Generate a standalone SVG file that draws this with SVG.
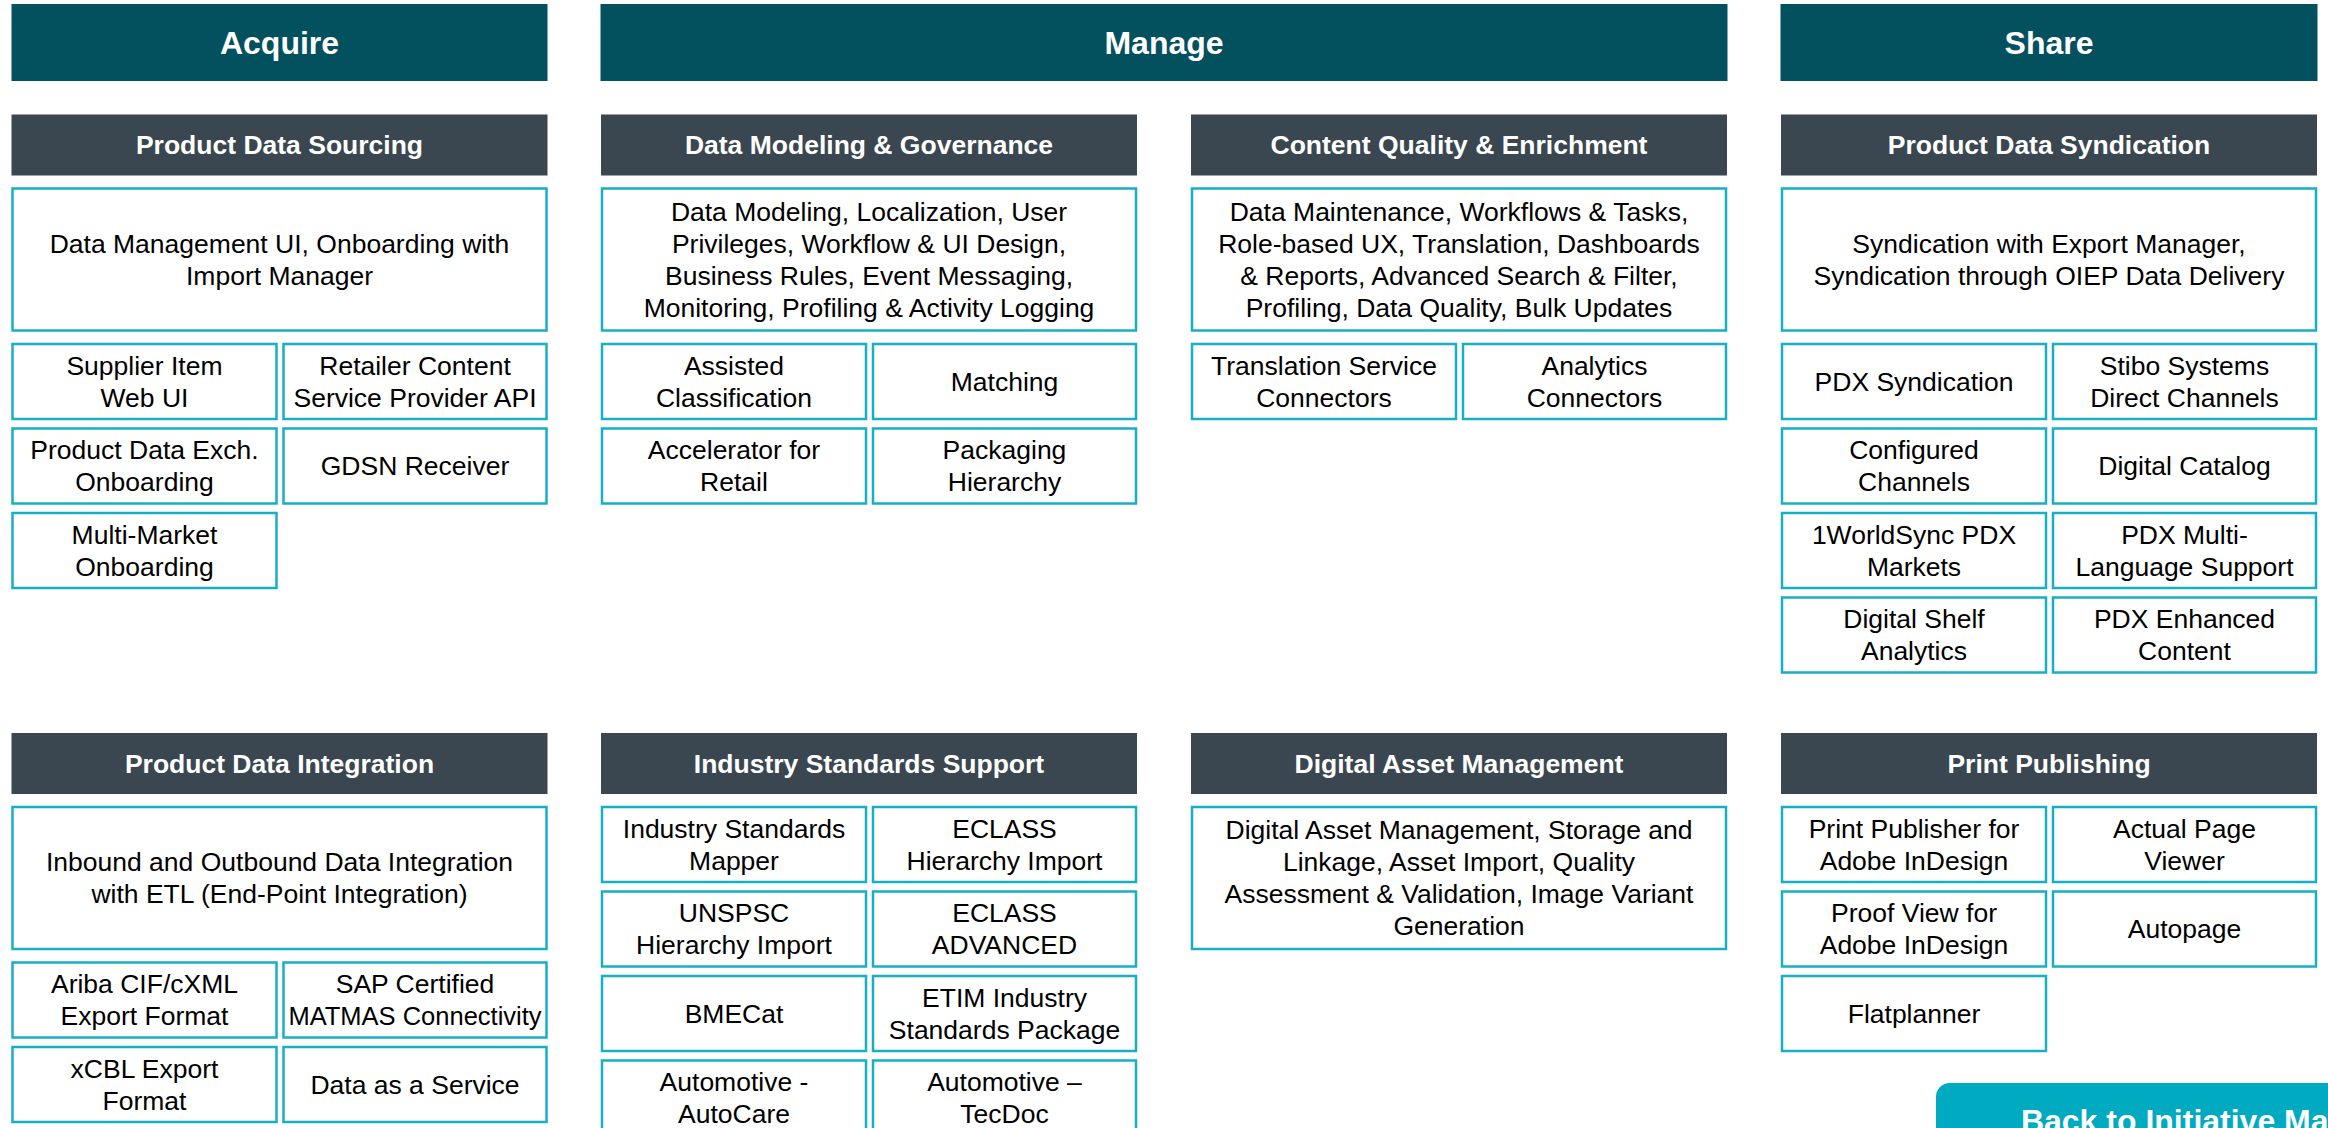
<svg xmlns="http://www.w3.org/2000/svg" width="2328" height="1128" viewBox="0 0 2328 1128">
<style>
.hd{fill:#03505E}
.sh{fill:#3A4650}
.bx{fill:#FFFFFF;stroke:#17AFC4;stroke-width:2.5}
text{font-family:"Liberation Sans",Arial,Helvetica,sans-serif;text-anchor:middle}
.t{font-size:26.5px;fill:#000000}
.st{font-size:26.5px;font-weight:bold;fill:#FFFFFF}
.ht{font-size:32px;font-weight:bold;fill:#FFFFFF}
.btn{fill:#00AAC1}
</style>
<rect x="0" y="0" width="2328" height="1128" fill="#FFFFFF"/>
<g id="connectors"></g>

<!-- Phase headers -->
<g id="acquire"><rect class="hd" x="11.5" y="4" width="536" height="77"/><text class="ht" x="279.5" y="53.6">Acquire</text></g>
<g id="manage"><rect class="hd" x="600.5" y="4" width="1127" height="77"/><text class="ht" x="1164" y="53.6">Manage</text></g>
<g id="share"><rect class="hd" x="1780.5" y="4" width="537" height="77"/><text class="ht" x="2049" y="53.6">Share</text></g>

<!-- Product Data Sourcing -->
<g id="product-data-sourcing">
<rect class="sh" x="11.5" y="114.5" width="536" height="61"/><text class="st" x="279.5" y="154.3">Product Data Sourcing</text>
</g>
<g id="pds-main"><rect class="bx" x="12.5" y="188.5" width="534" height="142"/><text class="t" x="279.5" y="252.8">Data Management UI, Onboarding with</text><text class="t" x="279.5" y="284.8">Import Manager</text></g>
<g id="pds-supplier"><rect class="bx" x="12.5" y="344" width="264" height="75"/><text class="t" x="144.5" y="374.8">Supplier Item</text><text class="t" x="144.5" y="406.8">Web UI</text></g>
<g id="pds-retailer"><rect class="bx" x="283.5" y="344" width="263" height="75"/><text class="t" x="415" y="374.8">Retailer Content</text><text class="t" x="415" y="406.8">Service Provider API</text></g>
<g id="pds-pdx"><rect class="bx" x="12.5" y="428.5" width="264" height="75"/><text class="t" x="144.5" y="459.3">Product Data Exch.</text><text class="t" x="144.5" y="491.3">Onboarding</text></g>
<g id="pds-gdsn"><rect class="bx" x="283.5" y="428.5" width="263" height="75"/><text class="t" x="415" y="475.3">GDSN Receiver</text></g>
<g id="pds-multimarket"><rect class="bx" x="12.5" y="513" width="264" height="75"/><text class="t" x="144.5" y="543.8">Multi-Market</text><text class="t" x="144.5" y="575.8">Onboarding</text></g>

<!-- Data Modeling & Governance -->
<g id="data-modeling-governance">
<rect class="sh" x="601" y="114.5" width="536" height="61"/><text class="st" x="869" y="154.3">Data Modeling &amp; Governance</text>
</g>
<g id="dmg-main"><rect class="bx" x="602" y="188.5" width="534" height="142"/>
<text class="t" x="869" y="220.8">Data Modeling, Localization, User</text>
<text class="t" x="869" y="252.8">Privileges, Workflow &amp; UI Design,</text>
<text class="t" x="869" y="284.8">Business Rules, Event Messaging,</text>
<text class="t" x="869" y="316.8">Monitoring, Profiling &amp; Activity Logging</text></g>
<g id="dmg-assisted"><rect class="bx" x="602" y="344" width="264" height="75"/><text class="t" x="734" y="374.8">Assisted</text><text class="t" x="734" y="406.8">Classification</text></g>
<g id="dmg-matching"><rect class="bx" x="873" y="344" width="263" height="75"/><text class="t" x="1004.5" y="390.8">Matching</text></g>
<g id="dmg-accelerator"><rect class="bx" x="602" y="428.5" width="264" height="75"/><text class="t" x="734" y="459.3">Accelerator for</text><text class="t" x="734" y="491.3">Retail</text></g>
<g id="dmg-packaging"><rect class="bx" x="873" y="428.5" width="263" height="75"/><text class="t" x="1004.5" y="459.3">Packaging</text><text class="t" x="1004.5" y="491.3">Hierarchy</text></g>

<!-- Content Quality & Enrichment -->
<g id="content-quality-enrichment">
<rect class="sh" x="1191" y="114.5" width="536" height="61"/><text class="st" x="1459" y="154.3">Content Quality &amp; Enrichment</text>
</g>
<g id="cqe-main"><rect class="bx" x="1192" y="188.5" width="534" height="142"/>
<text class="t" x="1459" y="220.8">Data Maintenance, Workflows &amp; Tasks,</text>
<text class="t" x="1459" y="252.8">Role-based UX, Translation, Dashboards</text>
<text class="t" x="1459" y="284.8">&amp; Reports, Advanced Search &amp; Filter,</text>
<text class="t" x="1459" y="316.8">Profiling, Data Quality, Bulk Updates</text></g>
<g id="cqe-translation"><rect class="bx" x="1192" y="344" width="264" height="75"/><text class="t" x="1324" y="374.8">Translation Service</text><text class="t" x="1324" y="406.8">Connectors</text></g>
<g id="cqe-analytics"><rect class="bx" x="1463" y="344" width="263" height="75"/><text class="t" x="1594.5" y="374.8">Analytics</text><text class="t" x="1594.5" y="406.8">Connectors</text></g>

<!-- Product Data Syndication -->
<g id="product-data-syndication">
<rect class="sh" x="1781" y="114.5" width="536" height="61"/><text class="st" x="2049" y="154.3">Product Data Syndication</text>
</g>
<g id="syn-main"><rect class="bx" x="1782" y="188.5" width="534" height="142"/><text class="t" x="2049" y="252.8">Syndication with Export Manager,</text><text class="t" x="2049" y="284.8">Syndication through OIEP Data Delivery</text></g>
<g id="syn-pdx"><rect class="bx" x="1782" y="344" width="264" height="75"/><text class="t" x="1914" y="390.8">PDX Syndication</text></g>
<g id="syn-stibo"><rect class="bx" x="2053" y="344" width="263" height="75"/><text class="t" x="2184.5" y="374.8">Stibo Systems</text><text class="t" x="2184.5" y="406.8">Direct Channels</text></g>
<g id="syn-configured"><rect class="bx" x="1782" y="428.5" width="264" height="75"/><text class="t" x="1914" y="459.3">Configured</text><text class="t" x="1914" y="491.3">Channels</text></g>
<g id="syn-catalog"><rect class="bx" x="2053" y="428.5" width="263" height="75"/><text class="t" x="2184.5" y="475.3">Digital Catalog</text></g>
<g id="syn-1worldsync"><rect class="bx" x="1782" y="513" width="264" height="75"/><text class="t" x="1914" y="543.8">1WorldSync PDX</text><text class="t" x="1914" y="575.8">Markets</text></g>
<g id="syn-multilang"><rect class="bx" x="2053" y="513" width="263" height="75"/><text class="t" x="2184.5" y="543.8">PDX Multi-</text><text class="t" x="2184.5" y="575.8">Language Support</text></g>
<g id="syn-shelf"><rect class="bx" x="1782" y="597.5" width="264" height="75"/><text class="t" x="1914" y="628.3">Digital Shelf</text><text class="t" x="1914" y="660.3">Analytics</text></g>
<g id="syn-enhanced"><rect class="bx" x="2053" y="597.5" width="263" height="75"/><text class="t" x="2184.5" y="628.3">PDX Enhanced</text><text class="t" x="2184.5" y="660.3">Content</text></g>

<!-- Product Data Integration -->
<g id="product-data-integration">
<rect class="sh" x="11.5" y="733" width="536" height="61"/><text class="st" x="279.5" y="772.8">Product Data Integration</text>
</g>
<g id="pdi-main"><rect class="bx" x="12.5" y="807" width="534" height="142"/><text class="t" x="279.5" y="871.3">Inbound and Outbound Data Integration</text><text class="t" x="279.5" y="903.3">with ETL (End-Point Integration)</text></g>
<g id="pdi-ariba"><rect class="bx" x="12.5" y="962.5" width="264" height="75"/><text class="t" x="144.5" y="993.3">Ariba CIF/cXML</text><text class="t" x="144.5" y="1025.3">Export Format</text></g>
<g id="pdi-sap"><rect class="bx" x="283.5" y="962.5" width="263" height="75"/><text class="t" x="415" y="993.3">SAP Certified</text><text class="t" x="415" y="1025.3" style="font-size:25.5px">MATMAS Connectivity</text></g>
<g id="pdi-xcbl"><rect class="bx" x="12.5" y="1047" width="264" height="75"/><text class="t" x="144.5" y="1077.8">xCBL Export</text><text class="t" x="144.5" y="1109.8">Format</text></g>
<g id="pdi-daas"><rect class="bx" x="283.5" y="1047" width="263" height="75"/><text class="t" x="415" y="1093.8">Data as a Service</text></g>

<!-- Industry Standards Support -->
<g id="industry-standards-support">
<rect class="sh" x="601" y="733" width="536" height="61"/><text class="st" x="869" y="772.8">Industry Standards Support</text>
</g>
<g id="iss-mapper"><rect class="bx" x="602" y="807" width="264" height="75"/><text class="t" x="734" y="837.8">Industry Standards</text><text class="t" x="734" y="869.8">Mapper</text></g>
<g id="iss-eclass-hier"><rect class="bx" x="873" y="807" width="263" height="75"/><text class="t" x="1004.5" y="837.8">ECLASS</text><text class="t" x="1004.5" y="869.8">Hierarchy Import</text></g>
<g id="iss-unspsc"><rect class="bx" x="602" y="891.5" width="264" height="75"/><text class="t" x="734" y="922.3">UNSPSC</text><text class="t" x="734" y="954.3">Hierarchy Import</text></g>
<g id="iss-eclass-adv"><rect class="bx" x="873" y="891.5" width="263" height="75"/><text class="t" x="1004.5" y="922.3">ECLASS</text><text class="t" x="1004.5" y="954.3">ADVANCED</text></g>
<g id="iss-bmecat"><rect class="bx" x="602" y="976" width="264" height="75"/><text class="t" x="734" y="1022.8">BMECat</text></g>
<g id="iss-etim"><rect class="bx" x="873" y="976" width="263" height="75"/><text class="t" x="1004.5" y="1006.8">ETIM Industry</text><text class="t" x="1004.5" y="1038.8">Standards Package</text></g>
<g id="iss-autocare"><rect class="bx" x="602" y="1060.5" width="264" height="75"/><text class="t" x="734" y="1091.3">Automotive -</text><text class="t" x="734" y="1123.3">AutoCare</text></g>
<g id="iss-tecdoc"><rect class="bx" x="873" y="1060.5" width="263" height="75"/><text class="t" x="1004.5" y="1091.3">Automotive –</text><text class="t" x="1004.5" y="1123.3">TecDoc</text></g>

<!-- Digital Asset Management -->
<g id="digital-asset-management">
<rect class="sh" x="1191" y="733" width="536" height="61"/><text class="st" x="1459" y="772.8">Digital Asset Management</text>
</g>
<g id="dam-main"><rect class="bx" x="1192" y="807" width="534" height="142"/>
<text class="t" x="1459" y="839.3">Digital Asset Management, Storage and</text>
<text class="t" x="1459" y="871.3">Linkage, Asset Import, Quality</text>
<text class="t" x="1459" y="903.3">Assessment &amp; Validation, Image Variant</text>
<text class="t" x="1459" y="935.3">Generation</text></g>

<!-- Print Publishing -->
<g id="print-publishing">
<rect class="sh" x="1781" y="733" width="536" height="61"/><text class="st" x="2049" y="772.8">Print Publishing</text>
</g>
<g id="pp-publisher"><rect class="bx" x="1782" y="807" width="264" height="75"/><text class="t" x="1914" y="837.8">Print Publisher for</text><text class="t" x="1914" y="869.8">Adobe InDesign</text></g>
<g id="pp-actual"><rect class="bx" x="2053" y="807" width="263" height="75"/><text class="t" x="2184.5" y="837.8">Actual Page</text><text class="t" x="2184.5" y="869.8">Viewer</text></g>
<g id="pp-proof"><rect class="bx" x="1782" y="891.5" width="264" height="75"/><text class="t" x="1914" y="922.3">Proof View for</text><text class="t" x="1914" y="954.3">Adobe InDesign</text></g>
<g id="pp-autopage"><rect class="bx" x="2053" y="891.5" width="263" height="75"/><text class="t" x="2184.5" y="938.3">Autopage</text></g>
<g id="pp-flatplanner"><rect class="bx" x="1782" y="976" width="264" height="75"/><text class="t" x="1914" y="1022.8">Flatplanner</text></g>

<!-- Back button -->
<g id="back-button"><rect class="btn" x="1936" y="1083" width="520" height="100" rx="14"/><text class="ht" x="2184.5" y="1132">Back to Initiative Map</text></g>
</svg>
